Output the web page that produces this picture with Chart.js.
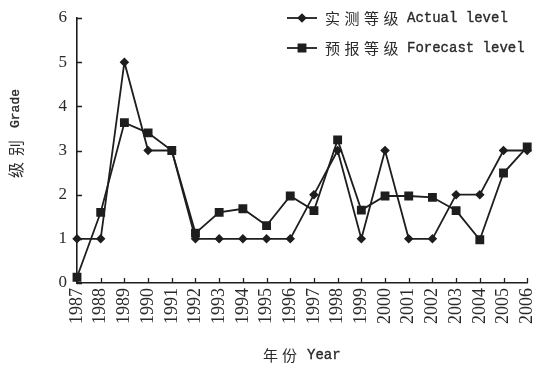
<!DOCTYPE html>
<html lang="zh">
<head>
  <meta charset="UTF-8" />
  <title>Actual vs Forecast level</title>
  <script src="https://cdn.jsdelivr.net/npm/chart.js"></script>
  <style>
    html, body { margin: 0; padding: 0; background: #fff; }
    #wrap { width: 534px; height: 369px; }
  </style>
</head>
<body>
  <div id="wrap"><canvas id="levelChart" width="534" height="369"></canvas></div>

  <script>
    // data
    const years = ['1987','1988','1989','1990','1991','1992','1993','1994','1995','1996',
                   '1997','1998','1999','2000','2001','2002','2003','2004','2005','2006'];
    const actualLevel   = [1, 1, 5, 3, 3, 1, 1, 1, 1, 1, 2, 3, 1, 3, 1, 1, 2, 2, 3, 3];
    const forecastLevel = [0.13, 1.6, 3.63, 3.4, 3.0, 1.13, 1.6, 1.68, 1.3, 1.97,
                           1.64, 3.24, 1.65, 1.97, 1.97, 1.94, 1.64, 0.98, 2.49, 3.08];
    const yTicks = [0, 1, 2, 3, 4, 5, 6];

    const labelActual = ['实测等级', 'Actual level'];
    const labelForecast = ['预报等级', 'Forecast level'];
    const titleX = ['年份', 'Year'];
    const titleY = ['级别', 'Grade'];

    const ink = '#1e1e1e';
    const textInk = '#2a2a2a';

    // chinese part with a little spacing, latin part in a mono face
    function drawMixed(ctx, cn, en, x, y, o) {
      ctx.font = o.cnSize + 'px "Noto Sans CJK SC"';
      ctx.letterSpacing = o.cnSpacing + 'px';
      ctx.fillText(cn, x, y);
      const w = ctx.measureText(cn).width;
      ctx.letterSpacing = '0px';
      ctx.font = o.enSize + 'px "Liberation Mono"';
      ctx.fillText(en, x + w + o.gap, y);
      ctx.lineWidth = 0.35;
      ctx.strokeStyle = textInk;
      ctx.strokeText(en, x + w + o.gap, y);
    }

    const extras = {
      id: 'extras',
      afterDraw(chart) {
        const ctx = chart.ctx;
        const xs = chart.scales.x, ys = chart.scales.y;
        const area = chart.chartArea;

        // inside tick marks
        ctx.save();
        ctx.strokeStyle = ink;
        ctx.lineWidth = 1.3;
        ctx.beginPath();
        yTicks.forEach(v => {
          const py = Math.round(ys.getPixelForValue(v)) + 0.5;
          ctx.moveTo(area.left, py);
          ctx.lineTo(area.left + 5, py);
        });
        years.forEach((_, i) => {
          const px = Math.round(xs.getPixelForValue(i)) + 0.5;
          ctx.moveTo(px, area.bottom);
          ctx.lineTo(px, area.bottom - 5);
        });
        ctx.stroke();
        ctx.restore();

        // legend
        ctx.save();
        ctx.fillStyle = textInk;
        ctx.textBaseline = 'middle';
        const rows = [18, 48];
        chart.data.datasets.forEach((ds, i) => {
          const y = rows[i];
          ctx.strokeStyle = ds.borderColor;
          ctx.lineWidth = ds.borderWidth;
          ctx.beginPath();
          ctx.moveTo(287, y);
          ctx.lineTo(317, y);
          ctx.stroke();
          Chart.helpers.drawPoint(ctx, {
            pointStyle: ds.pointStyle, radius: ds.pointRadius, rotation: 0, borderWidth: 1
          }, 302, y);
          ctx.fillStyle = ds.backgroundColor;
          ctx.fill();
          ctx.fillStyle = textInk;
          const parts = i === 0 ? labelActual : labelForecast;
          drawMixed(ctx, parts[0], parts[1], 325, y, { cnSize: 15, cnSpacing: 4.5, enSize: 14, gap: 4 });
        });

        // axis titles
        drawMixed(ctx, titleX[0], titleX[1], 263, 355, { cnSize: 15, cnSpacing: 4, enSize: 14, gap: 6 });
        ctx.translate(16, 178);
        ctx.rotate(-Math.PI / 2);
        drawMixed(ctx, titleY[0], titleY[1], 0, 0, { cnSize: 16, cnSpacing: 6, enSize: 13, gap: 6 });
        ctx.restore();
      }
    };

    const axisCommon = {
      grid: { display: true, drawOnChartArea: false, drawTicks: false },
      border: { display: true, color: ink, width: 1.6 }
    };

    new Chart(document.getElementById('levelChart'), {
      type: 'line',
      data: {
        labels: years,
        datasets: [
          {
            label: labelActual.join(' '),
            data: actualLevel,
            borderColor: ink,
            backgroundColor: ink,
            borderWidth: 1.8,
            pointStyle: 'rectRot',
            pointRadius: 3.5,
            tension: 0
          },
          {
            label: labelForecast.join(' '),
            data: forecastLevel,
            borderColor: ink,
            backgroundColor: ink,
            borderWidth: 1.8,
            pointStyle: 'rect',
            pointRadius: 5,
            tension: 0
          }
        ]
      },
      options: {
        responsive: false,
        animation: false,
        devicePixelRatio: 1,
        layout: { padding: { top: 18, right: 6, left: 0, bottom: 0 } },
        plugins: { legend: { display: false }, tooltip: { enabled: false } },
        scales: {
          x: {
            ...axisCommon,
            offset: false,
            ticks: {
              autoSkip: false, maxRotation: 90, minRotation: 90, padding: 5,
              color: textInk, font: { family: 'Liberation Serif', size: 18 }
            },
            afterFit(s) { s.height = 86; s.paddingLeft = 0; s.paddingRight = 0; }
          },
          y: {
            ...axisCommon,
            min: 0,
            max: 6,
            ticks: {
              stepSize: 1, padding: 10,
              color: textInk, font: { family: 'Liberation Serif', size: 17 }
            },
            afterFit(s) { s.width = 77; s.paddingTop = 0; s.paddingBottom = 0; }
          }
        }
      },
      plugins: [extras]
    });
  </script>
</body>
</html>
